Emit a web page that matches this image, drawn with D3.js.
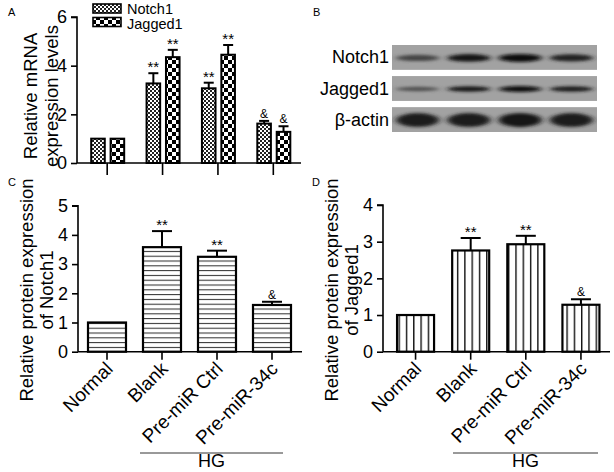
<!DOCTYPE html>
<html><head><meta charset="utf-8">
<script src="https://cdn.jsdelivr.net/npm/d3@7/dist/d3.min.js"></script>
<style>
body{margin:0;background:#fff;}
svg{display:block;font-family:"Liberation Sans",Arial,sans-serif;}
</style></head>
<body>
<svg id="c" width="614" height="472"></svg>
<script>
// ---- data ----
const groups = ["Normal","Blank","Pre-miR Ctrl","Pre-miR-34c"];
const seriesA = ["Notch1","Jagged1"];
const mrnaNotch1 = [1.0, 3.27, 3.07, 1.62];
const mrnaNotch1Err = [0, 0.42, 0.23, 0.11];
const mrnaJagged1 = [1.0, 4.35, 4.45, 1.28];
const mrnaJagged1Err = [0, 0.3, 0.4, 0.23];
const mrnaMarks = [["",""],["**","**"],["**","**"],["&","&"]];
const protNotch1 = [1.0, 3.58, 3.25, 1.6];
const protNotch1Err = [0, 0.55, 0.21, 0.11];
const protJagged1 = [1.0, 2.76, 2.93, 1.28];
const protJagged1Err = [0, 0.34, 0.23, 0.15];
const protMarks = ["", "**", "**", "&"];
const ticksA = [0,2,4,6];
const ticksC = [0,1,2,3,4,5];
const ticksD = [0,1,2,3,4];
const blotRows = ["Notch1","Jagged1","β-actin"];
const blotNotch1 = [0.55, 0.92, 1.0, 0.8];
const blotJagged1 = [0.45, 0.88, 1.0, 0.85];
const blotActin = [0.85, 0.85, 0.88, 0.85];

const svg = d3.select("#c");
const defs = svg.append("defs");
// patterns
const pN = defs.append("pattern").attr("id","pN").attr("patternUnits","userSpaceOnUse").attr("width",4).attr("height",4);
pN.append("rect").attr("width",4).attr("height",4).attr("fill","#fff");
pN.append("rect").attr("width",2).attr("height",2).attr("fill","#222");
pN.append("rect").attr("x",2).attr("y",2).attr("width",2).attr("height",2).attr("fill","#222");
const pJ = defs.append("pattern").attr("id","pJ").attr("patternUnits","userSpaceOnUse").attr("width",8).attr("height",8);
pJ.append("rect").attr("width",8).attr("height",8).attr("fill","#fff");
pJ.append("rect").attr("width",4).attr("height",4).attr("fill","#000");
pJ.append("rect").attr("x",4).attr("y",4).attr("width",4).attr("height",4).attr("fill","#000");
const pH = defs.append("pattern").attr("id","pH").attr("patternUnits","userSpaceOnUse").attr("width",10).attr("height",4.8).attr("y",351.7);
pH.append("rect").attr("width",10).attr("height",4.8).attr("fill","#fff");
pH.append("line").attr("x1",0).attr("x2",10).attr("y1",0.5).attr("y2",0.5).attr("stroke","#333").attr("stroke-width",1.1);
const pV = defs.append("pattern").attr("id","pV").attr("patternUnits","userSpaceOnUse").attr("width",7.3).attr("height",10).attr("x",398.5);
pV.append("rect").attr("width",7.3).attr("height",10).attr("fill","#fff");
pV.append("line").attr("x1",0.7).attr("x2",0.7).attr("y1",0).attr("y2",10).attr("stroke","#111").attr("stroke-width",1.4);
const blur = defs.append("filter").attr("id","blur").attr("x","-50%").attr("y","-100%").attr("width","200%").attr("height","300%");
blur.append("feGaussianBlur").attr("stdDeviation","3 1.6");

function panelLabel(t,x,y){ svg.append("text").attr("x",x).attr("y",y).attr("font-size",11).text(t); }

function yAxis(g, y, ticks, x0){
  const ax = d3.axisLeft(y).tickValues(ticks).tickSize(6).tickPadding(4).tickFormat(d3.format("d"));
  const a = g.append("g").attr("transform",`translate(${x0},0)`).call(ax);
  a.select(".domain").attr("stroke","#000").attr("stroke-width",1.6).attr("d",`M-6,${y(ticks[ticks.length-1])}H0V${y(0)}`);
  a.selectAll(".tick line").attr("stroke","#000").attr("stroke-width",1.6);
  a.selectAll(".tick text").attr("font-size",18).attr("font-family","Liberation Sans, Arial, sans-serif").attr("fill","#000");
}
function xAxis(g, x, y0, x0, x1, tickLen){
  const ax = d3.axisBottom(x).tickSize(tickLen).tickFormat("");
  const a = g.append("g").attr("transform",`translate(0,${y0})`).call(ax);
  a.select(".domain").attr("stroke","#000").attr("stroke-width",1.6).attr("d",`M${x0},0H${x1}`);
  a.selectAll(".tick line").attr("stroke","#000").attr("stroke-width",1.6);
}
function yTitle(lines, xs, yc){
  lines.forEach((l,i)=>{
    svg.append("text").attr("transform",`translate(${xs[i]},${yc}) rotate(-90)`)
      .attr("text-anchor","middle").attr("font-size",18.5).text(l);
  });
}
function errBar(g, cx, yTop, yErr, cap){
  g.append("line").attr("x1",cx).attr("x2",cx).attr("y1",yTop).attr("y2",yErr).attr("stroke","#000").attr("stroke-width",2);
  g.append("line").attr("x1",cx-cap/2).attr("x2",cx+cap/2).attr("y1",yErr).attr("y2",yErr).attr("stroke","#000").attr("stroke-width",2);
}
function mark(g, cx, yv, t){
  if(!t) return;
  g.append("text").attr("x",cx).attr("y", yv - (t==="&"?3:1)).attr("text-anchor","middle")
    .attr("font-size", t==="&"?12:15).text(t);
}

// ---- Panel A ----
panelLabel("A",8,16);
{
  const g = svg.append("g");
  const y = d3.scaleLinear().domain([0,6]).range([163,17]);
  const x = d3.scaleBand().domain(groups).range([79.5,301]);
  const xs = d3.scaleBand().domain(seriesA).range([-16,17]).paddingInner(0.3);
  const vals = [mrnaNotch1, mrnaJagged1], errs=[mrnaNotch1Err, mrnaJagged1Err], fills=["url(#pN)","url(#pJ)"];
  seriesA.forEach((s,si)=>{
    groups.forEach((gr,i)=>{
      const cx = x(gr)+x.bandwidth()/2 + xs(s);
      const w = xs.bandwidth();
      g.append("rect").attr("x",cx).attr("y",y(vals[si][i])).attr("width",w).attr("height",y(0)-y(vals[si][i]))
        .attr("fill",fills[si]).attr("stroke","#000").attr("stroke-width",2);
      if(errs[si][i]>0){
        errBar(g, cx+w/2, y(vals[si][i]), y(vals[si][i]+errs[si][i]), 10);
      }
      mark(g, cx+w/2, y(vals[si][i]+errs[si][i]), mrnaMarks[i][si]);
    });
  });
  yAxis(g, y, ticksA, 77);
  xAxis(g, x, 163, 77, 301, 12);
  yTitle(["Relative mRNA","expression levels"], [37,58], 96);
  // legend
  const lg = svg.append("g");
  seriesA.forEach((s,i)=>{
    lg.append("rect").attr("x",93).attr("y",4+i*13.5).attr("width",28).attr("height",9)
      .attr("fill",fills[i]).attr("stroke","#000").attr("stroke-width",1.6);
    lg.append("text").attr("x",127).attr("y",13.5+i*15.5).attr("font-size",14.5).text(s);
  });
}

// ---- Panel B (blot) ----
panelLabel("B",313,16);
{
  const g = svg.append("g");
  const lx = d3.scaleBand().domain(groups).range([392,597]);
  const ry = d3.scaleBand().domain(blotRows).range([45,132]).paddingInner(0.2);
  const intens = [blotNotch1, blotJagged1, blotActin];
  const bh = [8, 6, 15];
  blotRows.forEach((r,ri)=>{
    const y0 = ry(r), h = ry.bandwidth();
    const clipId = "clip"+ri;
    defs.append("clipPath").attr("id",clipId).append("rect").attr("x",392).attr("y",y0).attr("width",205).attr("height",h);
    g.append("rect").attr("x",392).attr("y",y0).attr("width",205).attr("height",h).attr("fill","#a2a2a2");
    const bg = g.append("g").attr("clip-path",`url(#${clipId})`);
    groups.forEach((gr,i)=>{
      const cx = lx(gr)+lx.bandwidth()/2;
      const v = intens[ri][i];
      bg.append("ellipse").attr("cx",cx).attr("cy",y0+h/2+0.5).attr("rx",lx.bandwidth()*0.42).attr("ry",bh[ri]*(0.55+0.45*v)/2)
        .attr("fill",d3.interpolateRgb("#8a8a8a","#0a0a0a")(v)).attr("filter","url(#blur)");
    });
    svg.append("text").attr("x",389).attr("y",y0+h/2+6).attr("text-anchor","end").attr("font-size",18).text(r);
  });
}

// ---- Panels C & D ----
function proteinPanel(opts){
  const g = svg.append("g");
  const y = d3.scaleLinear().domain([0,opts.max]).range([351.7, opts.top]);
  const x = d3.scaleBand().domain(groups).range(opts.xr);
  groups.forEach((gr,i)=>{
    const cx = x(gr)+x.bandwidth()/2;
    const v = opts.vals[i];
    g.append("rect").attr("x",cx-opts.bw/2).attr("y",y(v)).attr("width",opts.bw).attr("height",y(0)-y(v))
      .attr("fill",opts.fill).attr("stroke","#000").attr("stroke-width",2.2);
    if(opts.errs[i]>0) errBar(g, cx, y(v), y(v+opts.errs[i]), 20);
    mark(g, cx, y(v+opts.errs[i]), protMarks[i]);
    g.append("text").attr("transform",`translate(${cx+7},${370}) rotate(-45)`).attr("text-anchor","end")
      .attr("font-size",19).text(gr);
  });
  yAxis(g, y, opts.ticks, opts.ax);
  xAxis(g, x, 351.7, opts.ax, opts.xend, 8);
  yTitle(opts.title, opts.tx, 290);
  g.append("line").attr("x1",opts.hg[0]).attr("x2",opts.hg[1]).attr("y1",453).attr("y2",453).attr("stroke","#000").attr("stroke-width",0.8);
  g.append("text").attr("x",(opts.hg[0]+opts.hg[1])/2).attr("y",467).attr("text-anchor","middle").attr("font-size",18).text("HG");
}
panelLabel("C",8,186);
proteinPanel({max:5, top:205.7, ticks:ticksC, xr:[79.5,299.5], ax:78, xend:302, bw:38, vals:protNotch1, errs:protNotch1Err,
  fill:"url(#pH)", title:["Relative protein expression","of Notch1"], tx:[33,53], hg:[140,283]});
panelLabel("D",312,186);
proteinPanel({max:4, top:205, ticks:ticksD, xr:[388,608.5], ax:383, xend:610, bw:37, vals:protJagged1, errs:protJagged1Err,
  fill:"url(#pV)", title:["Relative protein expression","of Jagged1"], tx:[338,358], hg:[453,598]});
</script>
</body></html>
